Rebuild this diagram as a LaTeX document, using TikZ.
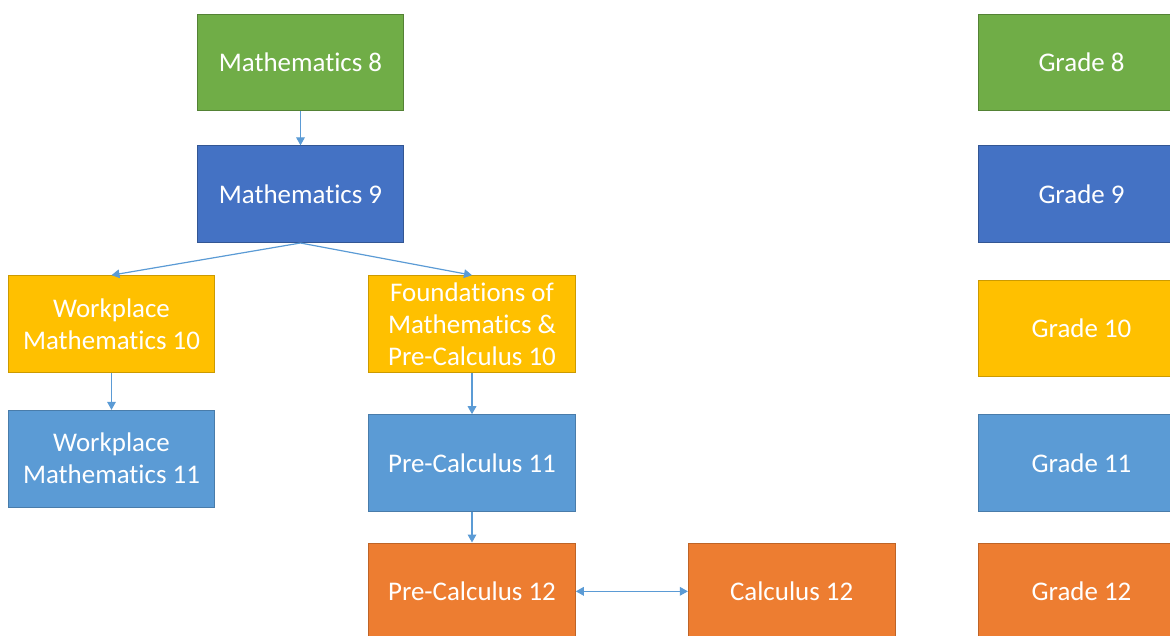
\documentclass[tikz,border=0pt]{standalone}
\usepackage{fontspec}
\setmainfont{Carlito}[Ligatures=NoCommon]
\usepackage{tikz}
\usetikzlibrary{arrows.meta,positioning}
\definecolor{offgreen}{HTML}{70AD47}
\definecolor{offblue}{HTML}{4472C4}
\definecolor{offgold}{HTML}{FFC000}
\definecolor{offsky}{HTML}{5B9BD5}
\definecolor{offorange}{HTML}{ED7D31}
\tikzset{
    %Define standard arrow tip
    >={Triangle[length=6pt,width=6.5pt]},
    %Define style for boxes
    course/.style={
           rectangle,
           line width=0.75pt,
           minimum width=155pt,
           minimum height=72.5pt,
           font=\fontsize{20.2}{24}\selectfont,
           text=white,
           align=center,
           },
    yr8/.style={course, fill=offgreen, draw=offgreen!75!black},
    yr9/.style={course, fill=offblue, draw=offblue!75!black},
    yr10/.style={course, fill=offgold, draw=offgold!80!black},
    yr11/.style={course, fill=offsky, draw=offsky!80!black},
    yr12/.style={course, fill=offorange, draw=offorange!80!black},
    % Define arrow style
    link/.style={
           ->,
           draw=offsky,
           line width=0.9pt,},
}
\begin{document}
\begin{tikzpicture}[x=0.75pt,y=-0.75pt,node distance=25.5pt]
 \useasboundingbox (0,0) rectangle (1170,635);
 \clip (0,0) rectangle (1170,635);

 %courses
\node[yr8](m8) at (300.5,62.5){Mathematics 8};
\node[yr9, below=of m8](m9){Mathematics 9};
\node[yr10](wp10) at (111.5,324){Workplace\\Mathematics 10};
\node[yr10](fpc10) at (472,324){Foundations of\\Mathematics \&\\Pre-Calculus 10};
\node[yr11, below=27.75pt of wp10](wp11){Workplace\\Mathematics 11};
\node[yr11, below=31pt of fpc10](pc11){Pre-Calculus 11};
\node[yr12, below=23pt of pc11](pc12){Pre-Calculus 12};
\node[yr12, right=84pt of pc12](calc12){Calculus 12};

 %grade legend
\node[yr8](g8) at (1081.5,62.5){Grade 8};
\node[yr9, below=of g8](g9){Grade 9};
\node[yr10](g10) at (1081.5,328.5){Grade 10};
\node[yr11](g11) at (g8 |- pc11){Grade 11};
\node[yr12](g12) at (g8 |- pc12){Grade 12};

 %links
\draw[link] (m8) -- (m9);
\draw[link] (m9.south) -- (wp10.north);
\draw[link] (m9.south) -- (fpc10.north);
\draw[link] (wp10) -- (wp11);
\draw[link] (fpc10) -- (pc11);
\draw[link] (pc11) -- (pc12);
\draw[link,<->] (pc12) -- (calc12);

\end{tikzpicture}
\end{document}
